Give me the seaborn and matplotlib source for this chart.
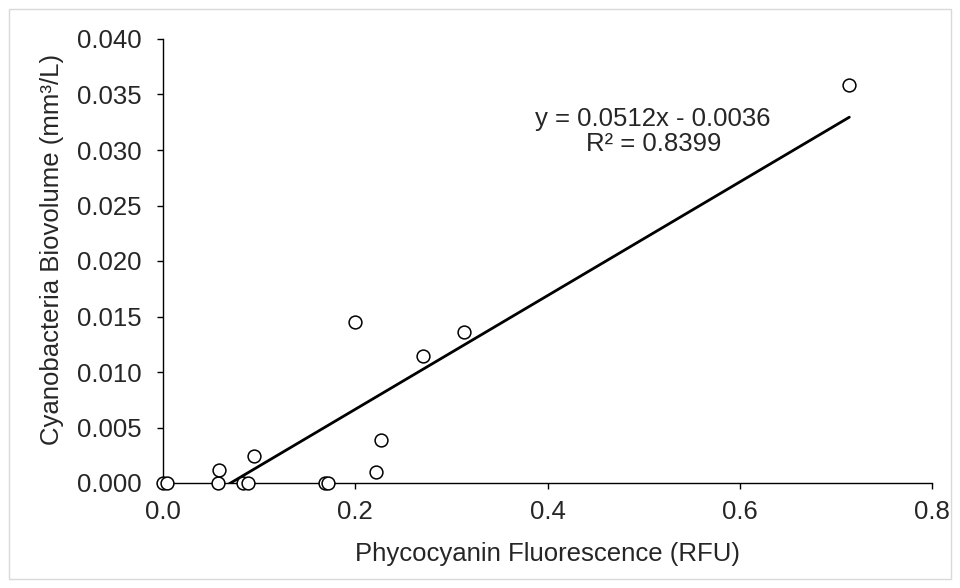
import matplotlib
matplotlib.use("Agg")
import matplotlib.pyplot as plt
import matplotlib.patches as mpatches
import seaborn as sns
import numpy as np
import pandas as pd

# values
pc_rfu = [0.000, 0.004, 0.057, 0.058, 0.095, 0.083, 0.088, 0.169, 0.172,
          0.222, 0.227, 0.200, 0.270, 0.313, 0.714]
biovolume = [0.0000, 0.0000, 0.0000, 0.0012, 0.0024, 0.0000, 0.0000, 0.0000, 0.0000,
             0.0010, 0.0039, 0.0145, 0.0114, 0.0136, 0.0359]
slope = 0.0512
intercept = -0.0036
r2 = 0.8399
xticks = [0.0, 0.2, 0.4, 0.6, 0.8]
yticks = [0.000, 0.005, 0.010, 0.015, 0.020, 0.025, 0.030, 0.035, 0.040]

df = pd.DataFrame({"x": pc_rfu, "y": biovolume})

sns.set_style("ticks")
plt.rcParams['font.family'] = ['Liberation Sans', 'DejaVu Sans']
fs = 18.5

fig = plt.figure(figsize=(9.6, 5.88), dpi=100)
ax = fig.add_axes([163/960, 1 - 483/588, (932-163)/960, (483-39)/588])

# trendline over the data range
xl = np.array([df.x.min(), df.x.max()])
line = pd.DataFrame({"x": xl, "y": slope*xl + intercept})
sns.lineplot(data=line, x="x", y="y", color="black", linewidth=2.0, ax=ax, zorder=2)

sns.scatterplot(data=df, x="x", y="y", ax=ax, s=85, facecolor="white",
                edgecolor="black", linewidth=1.1, zorder=3, clip_on=False)

ax.set_xlim(0, 0.8)
ax.set_ylim(0, 0.04)
ax.set_xticks(xticks)
ax.set_yticks(yticks)
ax.set_xticklabels([f"{v:.1f}" for v in xticks])
ax.set_yticklabels([f"{v:.3f}" for v in yticks])
ax.tick_params(labelsize=fs, length=4.5, width=1, color="black")
ax.tick_params(axis="y", pad=11)
ax.tick_params(axis="x", pad=8)
for s in ["top", "right"]:
    ax.spines[s].set_visible(False)
for s in ["left", "bottom"]:
    ax.spines[s].set_linewidth(1)
    ax.spines[s].set_color("black")

ax.set_xlabel("Phycocyanin Fluorescence (RFU)", fontsize=fs, labelpad=13)
ax.set_ylabel("Cyanobacteria Biovolume (mm³/L)", fontsize=fs)
ax.yaxis.set_label_coords(-0.129, 0.527)

ax.text(0.51, 0.0317, f"y = {slope}x - {abs(intercept):.4f}\nR² = {r2}",
        ha="center", va="center", fontsize=fs, linespacing=1.05)

fig.patches.append(mpatches.Rectangle((9/960, 9/588), 1 - 18/960, 1 - 18/588,
                                      transform=fig.transFigure, fill=False,
                                      edgecolor="#d9d9d9", linewidth=1))

fig.savefig("out.png", dpi=100)
